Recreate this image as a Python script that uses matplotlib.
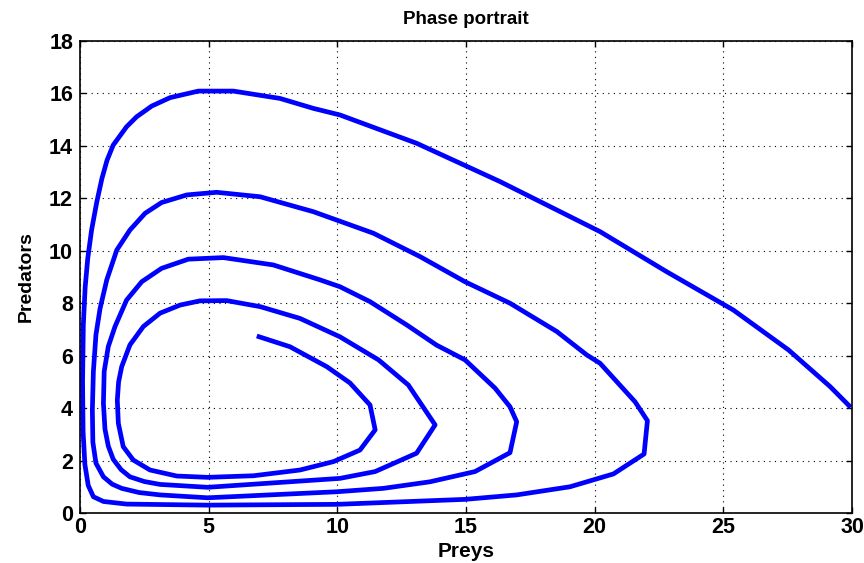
import matplotlib
matplotlib.use("Agg")
import matplotlib.pyplot as plt

# Phase trajectory (preys, predators)
preys = [29.95, 29.15, 27.53, 25.39, 22.80, 20.21, 16.32, 13.08, 10.10, 9.07, 7.77, 5.96, 4.60,
         3.50, 2.79, 2.20, 1.81, 1.29, 1.05, 0.85, 0.65, 0.45, 0.30, 0.20, 0.13, 0.10, 0.12,
         0.19, 0.32, 0.52, 0.91, 1.81,
         4.96, 9.98, 14.96, 16.97, 19.04, 20.73, 21.92, 22.05, 21.57, 20.86, 20.21, 19.69,
         18.53, 16.71, 14.96, 13.21, 11.40, 9.07, 7.00, 5.31, 4.15, 3.17, 2.53, 1.94, 1.43,
         1.04, 0.78, 0.62, 0.52, 0.48, 0.50, 0.62, 0.91, 1.25, 1.62, 2.30, 3.11, 4.96, 9.98,
         11.79, 13.60, 15.35,
         16.71, 16.97, 16.71, 16.13, 14.96, 13.86, 12.70, 11.27, 10.10, 9.33, 7.51, 5.57,
         4.21, 3.17, 2.40, 1.81, 1.36, 1.10, 0.94, 0.91, 0.97, 1.10, 1.29, 1.60, 1.94, 2.50,
         3.11, 4.96, 10.10,
         11.47, 13.08, 13.80, 12.76, 11.60, 10.10, 8.55, 7.00, 5.70, 4.66, 3.89, 3.11, 2.46,
         1.94, 1.62, 1.50, 1.45, 1.49, 1.68, 2.07, 2.72, 3.76, 4.96, 6.74, 8.55, 9.85, 10.88,
         11.47, 11.27, 10.49, 9.59, 8.16, 6.87]
predators = [4.03, 4.82, 6.22, 7.74, 9.20, 10.73, 12.64, 14.10, 15.18, 15.43, 15.81, 16.09, 16.09,
             15.84, 15.52, 15.11, 14.73, 14.03, 13.45, 12.75, 11.85, 10.79, 9.70, 8.60, 7.20, 5.00, 3.10,
             1.85, 1.05, 0.62, 0.44, 0.34,
             0.30, 0.33, 0.52, 0.69, 1.00, 1.49, 2.25, 3.52, 4.24, 5.01, 5.71, 6.03,
             6.92, 8.00, 8.82, 9.78, 10.67, 11.49, 12.06, 12.23, 12.13, 11.84, 11.43, 10.79, 10.03,
             8.89, 7.80, 6.80, 5.40, 3.93, 2.70, 1.90, 1.38, 1.10, 0.94, 0.78, 0.69, 0.58, 0.81,
             0.94, 1.19, 1.58,
             2.30, 3.48, 4.05, 4.76, 5.84, 6.40, 7.17, 8.06, 8.63, 8.89, 9.46, 9.74,
             9.68, 9.33, 8.82, 8.12, 7.11, 6.35, 5.40, 4.18, 3.20, 2.55, 2.05, 1.65, 1.38, 1.20,
             1.09, 0.98, 1.32,
             1.58, 2.28, 3.36, 4.88, 5.84, 6.72, 7.42, 7.87, 8.10, 8.09, 7.93, 7.62, 7.11,
             6.41, 5.58, 5.00, 4.30, 3.42, 2.53, 2.02, 1.64, 1.41, 1.36, 1.42, 1.64, 1.96, 2.40,
             3.17, 4.12, 4.96, 5.58, 6.34, 6.75]

x_ticks = [0, 5, 10, 15, 20, 25, 30]
y_ticks = [0, 2, 4, 6, 8, 10, 12, 14, 16, 18]

plt.rcParams['font.family'] = ['Liberation Sans', 'DejaVu Sans']
plt.rcParams['font.weight'] = 'bold'

fig = plt.figure(figsize=(8.64, 5.63), dpi=100)
ax = fig.add_axes([80/864, 1 - 513/563, 772/864, 472/563])
ax.plot(preys, predators, color=(0, 0, 1), linewidth=3.4, solid_joinstyle='round',
        solid_capstyle='butt')
ax.set_xlim(0, 30)
ax.set_ylim(0, 18)
ax.set_xticks(x_ticks)
ax.set_yticks(y_ticks)
ax.set_xticklabels([str(v) for v in x_ticks], fontsize=15.5, fontweight='bold')
ax.set_yticklabels([str(v) for v in y_ticks], fontsize=15.5, fontweight='bold')
ax.grid(True, linestyle=(0, (1, 4)), color='black', linewidth=0.8)
ax.tick_params(direction='in', length=4, width=1, top=True, right=True, pad=5)
ax.tick_params(axis='x', pad=3)
for s in ax.spines.values():
    s.set_linewidth(1.2)
ax.set_title('Phase portrait', fontsize=13.5, fontweight='bold', pad=12)
ax.set_xlabel('Preys', fontsize=15, fontweight='bold', labelpad=3)
ax.set_ylabel('Predators', fontsize=14, fontweight='bold', labelpad=10)
fig.savefig('out.png', dpi=100)
